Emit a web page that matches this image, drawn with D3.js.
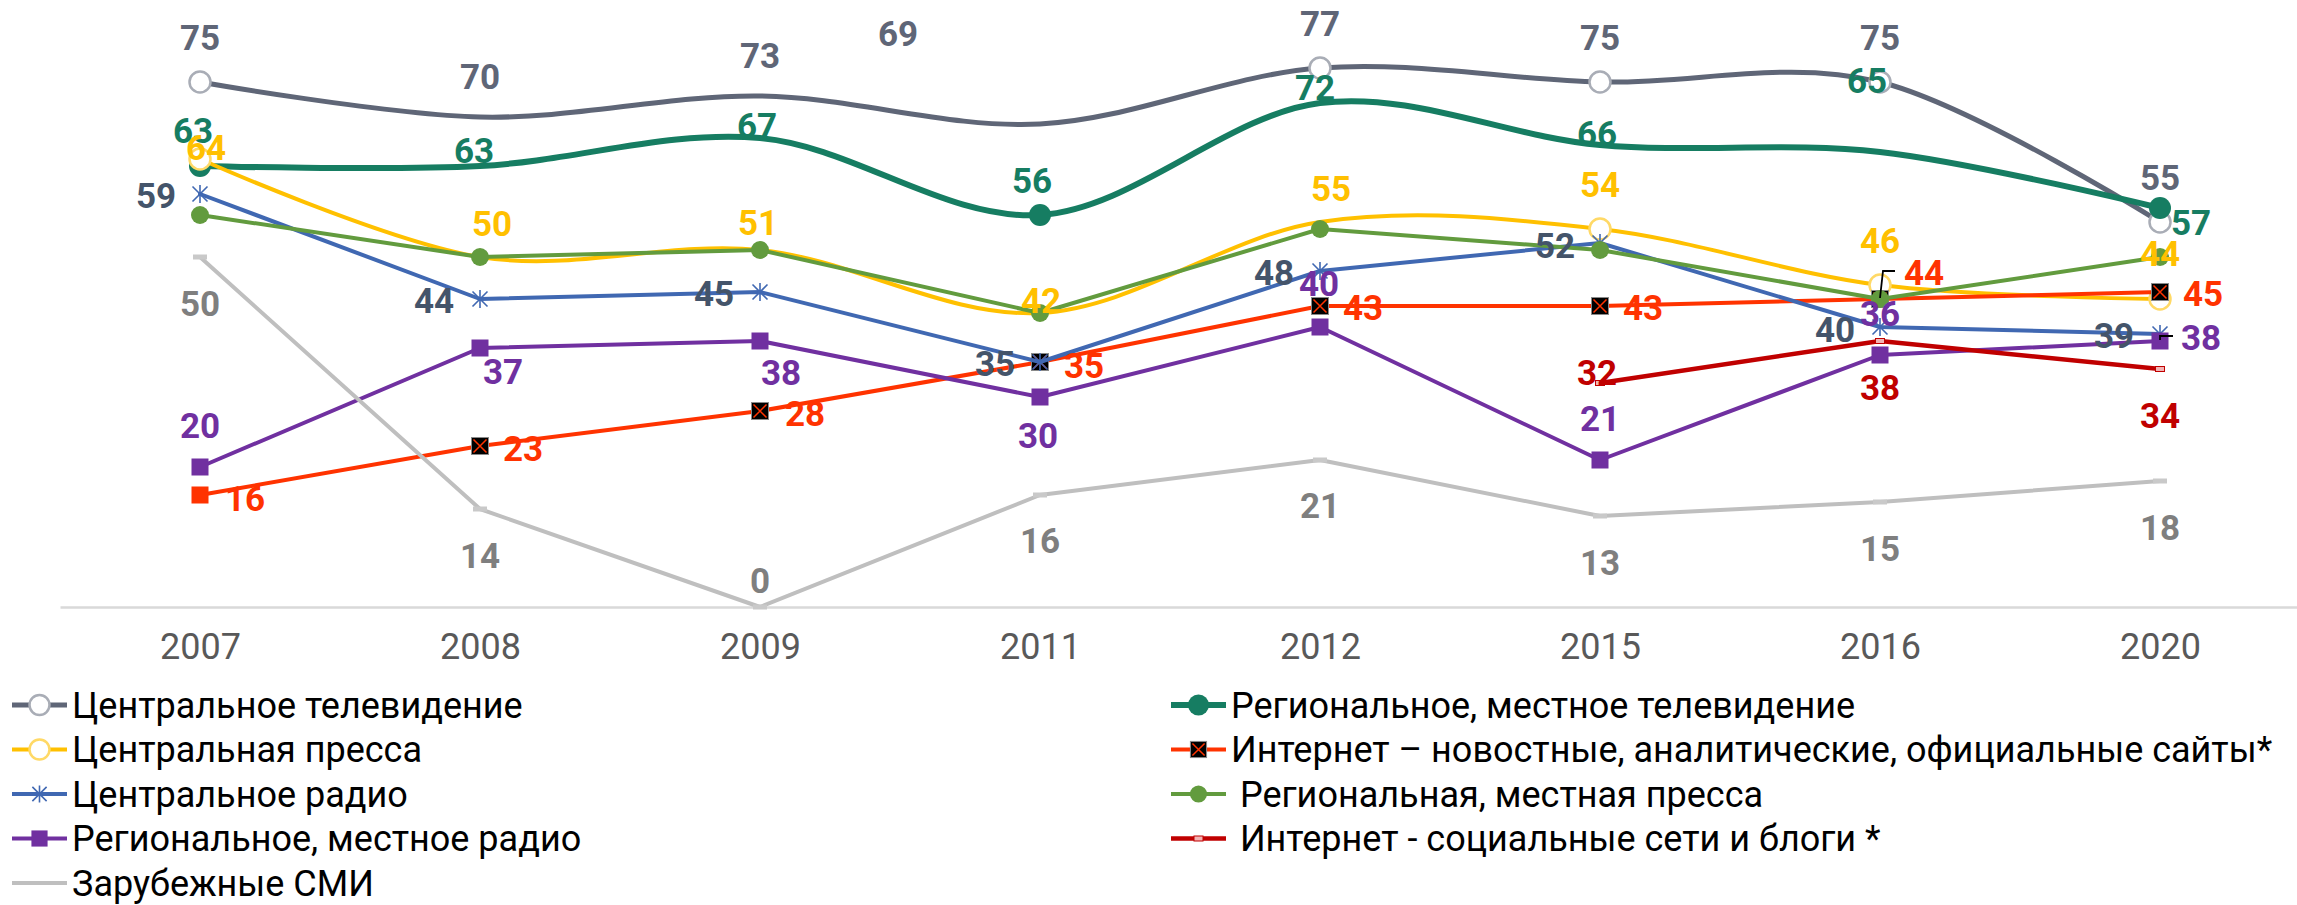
<!DOCTYPE html>
<html>
<head>
<meta charset="utf-8">
<script src="https://cdn.jsdelivr.net/npm/d3@7"></script>
<style>
  body { margin: 0; background: #fff; }
  svg { display: block; font-family: Roboto, "Open Sans", sans-serif; }
</style>
</head>
<body>
<svg id="chart" width="2297" height="905"></svg>
<script>
// Data
const years = ["2007", "2008", "2009", "2011", "2012", "2015", "2016", "2020"];
const centralTv = [75, 70, 73, 69, 77, 75, 75, 55];
const regionalTv = [63, 63, 67, 56, 72, 66, 65, 57];
const centralPress = [64, 50, 51, 42, 55, 54, 46, 44];
const internetNews = [16, 23, 28, 35, 43, 43, 44, 45];
const centralRadio = [59, 44, 45, 35, 48, 52, 40, 39];
const regionalPress = [56, 50, 51, 42, 54, 51, 44, 50];
const regionalRadio = [20, 37, 38, 30, 40, 21, 36, 38];
const internetSocial = [null, null, null, null, null, 32, 38, 34];
const foreignMedia = [50, 14, 0, 16, 21, 13, 15, 18];

// label placement (dx, dy from the point), hand placed like in the original
const tvLabelPos = [[0, -45], [0, -41], [0, -41], [-142, -91], [0, -45], [0, -45], [0, -45], [0, -45]];
const regTvLabelPos = [[-7, -36], [-6, -16], [-3, -13], [-8, -35], [-5, -16], [-3, -12], [-13, -72], [31, 14]];
const pressLabelPos = [[6, -12], [12, -34], [-2, -28], [1, -13], [11, -34], [0, -45], [0, -45], [0, -46]];
const newsLabelPos = [[45, 3], [43, 2], [45, 2], [44, 3], [43, 1], [43, 1], [44, -27], [43, 1]];
const radioLabelPos = [[-44, 1], [-46, 1], [-46, 1], [-45, 1], [-46, 1], [-45, 2], [-45, 2], [-46, 1]];
const regRadioLabelPos = [[0, -42], [23, 23], [21, 31], [-2, 38], [-1, -44], [0, -42], [0, -42], [41, -4]];
const socialLabelPos = [null, null, null, null, null, [-3, -11], [0, 46], [0, 46]];
const foreignLabelPos = [[0, 46], [0, 46], [0, -27], [0, 45], [0, 45], [0, 46], [0, 46], [0, 46]];

const series = [
    { name: "Центральное телевидение", values: centralTv, color: "#5F6677", width: 5, smooth: true,
      marker: "circleOpen", markerStroke: "#A9ADB6", markerAt: [0, 4, 5, 6, 7], label: "#5F6677", pos: tvLabelPos },
    { name: "Региональное, местное телевидение", values: regionalTv, color: "#167D62", width: 6, smooth: true,
      marker: "circle", r: 11, markerAt: [0, 3, 7], label: "#167D62", pos: regTvLabelPos },
    { name: "Центральная пресса", values: centralPress, color: "#FFC000", width: 4, smooth: true,
      marker: "circleOpen", markerStroke: "#FFD966", markerAt: [0, 5, 6, 7], label: "#FFC000", pos: pressLabelPos },
    { name: "Интернет – новостные, аналитические, официальные сайты*", values: internetNews, color: "#FF3300", width: 4,
      marker: "squareX", label: "#FF3300", pos: newsLabelPos },
    { name: "Центральное радио", values: centralRadio, color: "#4068B2", width: 4,
      marker: "asterisk", label: "#44546A", pos: radioLabelPos },
    { name: " Региональная, местная пресса", values: regionalPress, color: "#629B3E", width: 4,
      marker: "circle", r: 9 },
    { name: "Региональное, местное радио", values: regionalRadio, color: "#7030A0", width: 4,
      marker: "square", label: "#7030A0", pos: regRadioLabelPos },
    { name: " Интернет - социальные сети и блоги *", values: internetSocial, color: "#C00000", width: 4.5,
      marker: "dashRed", label: "#C00000", pos: socialLabelPos },
    { name: "Зарубежные СМИ", values: foreignMedia, color: "#BFBFBF", width: 4,
      marker: "dash", label: "#7F7F7F", pos: foreignLabelPos }
];

// leader lines of two moved labels
const leaders = [
    { s: 3, i: 6, pts: [[0, -1], [3, -28], [15, -28]] },
    { s: 6, i: 7, pts: [[0, -1], [0, -5], [13, -5]] }
];

const svg = d3.select("#chart");
const x = d3.scalePoint().domain(years).range([60, 2300]).padding(0.5);
const y = d3.scaleLinear().domain([0, 80]).range([607, 47]);

// Axis
const axis = svg.append("g")
    .attr("transform", "translate(0,607)")
    .call(d3.axisBottom(x).tickSize(0).tickPadding(26));
axis.select(".domain").attr("stroke", "#D9D9D9").attr("stroke-width", 2.5);
axis.selectAll("text")
    .attr("fill", "#595959")
    .style("font-size", "36px")
    .style("font-family", "Roboto, sans-serif");

const drawMarker = (g, s, type, cx, cy, scale = 1) => {
    if (type === "circleOpen") {
        g.append("circle").attr("cx", cx).attr("cy", cy).attr("r", 10.5 * scale)
            .attr("fill", "#fff").attr("stroke", s.markerStroke).attr("stroke-width", 2.5);
    } else if (type === "circle") {
        g.append("circle").attr("cx", cx).attr("cy", cy).attr("r", s.r * scale).attr("fill", s.color);
    } else if (type === "square") {
        const a = 17 * scale;
        g.append("rect").attr("x", cx - a / 2).attr("y", cy - a / 2).attr("width", a).attr("height", a)
            .attr("fill", s.color);
    } else if (type === "squareX") {
        const a = 17 * scale, h = a / 2 - 2;
        g.append("rect").attr("x", cx - a / 2).attr("y", cy - a / 2).attr("width", a).attr("height", a)
            .attr("fill", "#000").attr("stroke", "#8a8a8a").attr("stroke-width", 1);
        g.append("path")
            .attr("d", `M${cx - h},${cy - h}L${cx + h},${cy + h}M${cx + h},${cy - h}L${cx - h},${cy + h}`)
            .attr("stroke", s.color).attr("stroke-width", 1.5);
    } else if (type === "asterisk") {
        const h = 9 * scale, d = 7.5 * scale;
        g.append("path")
            .attr("d", `M${cx},${cy - h}L${cx},${cy + h}M${cx - d},${cy - d}L${cx + d},${cy + d}M${cx + d},${cy - d}L${cx - d},${cy + d}`)
            .attr("stroke", s.color).attr("stroke-width", 1.6).attr("fill", "none");
    } else if (type === "dash") {
        g.append("rect").attr("x", cx - 7).attr("y", cy - 2.5).attr("width", 14).attr("height", 5)
            .attr("fill", "#C9C9C9");
    } else if (type === "dashRed") {
        g.append("rect").attr("x", cx - 4.5).attr("y", cy - 2.5).attr("width", 9).attr("height", 5)
            .attr("fill", "#F2B4B4").attr("stroke", s.color).attr("stroke-width", 1);
    }
};

// Lines + markers
const plot = svg.append("g");
series.forEach(s => {
    const line = d3.line()
        .defined(d => d != null)
        .x((d, i) => x(years[i]))
        .y(d => y(d))
        .curve(s.smooth ? d3.curveCardinal.tension(0) : d3.curveLinear);
    const g = plot.append("g");
    g.append("path")
        .datum(s.values)
        .attr("d", line)
        .attr("fill", "none")
        .attr("stroke", s.color)
        .attr("stroke-width", s.width)
        .attr("stroke-linejoin", "round")
        .attr("stroke-linecap", "round");
    s.values.forEach((v, i) => {
        if (v == null) return;
        if (s.markerAt && !s.markerAt.includes(i)) return;
        let type = s.marker;
        if (type === "squareX" && i === 0) type = "square";
        drawMarker(g, s, type, x(years[i]), y(v));
    });
});

// Leader lines
leaders.forEach(l => {
    const s = series[l.s];
    const px = x(years[l.i]), py = y(s.values[l.i]);
    svg.append("path")
        .attr("d", d3.line()(l.pts.map(p => [px + p[0], py + p[1]])))
        .attr("fill", "none")
        .attr("stroke", "#000")
        .attr("stroke-width", 1.8);
});

// Data labels
const labels = svg.append("g")
    .style("font-size", "35px")
    .style("font-weight", "bold")
    .attr("text-anchor", "middle");
series.forEach(s => {
    if (!s.pos) return;
    s.values.forEach((v, i) => {
        if (v == null) return;
        const p = s.pos[i];
        labels.append("text")
            .attr("x", x(years[i]) + p[0])
            .attr("y", y(v) + p[1])
            .attr("dy", "0.36em")
            .attr("fill", s.label)
            .text(v);
    });
});

// Legend
const legend = svg.append("g");
series.forEach((s, k) => {
    const col = k % 2, row = Math.floor(k / 2);
    const x0 = col === 0 ? 12 : 1171;
    const cy = 705 + row * 44.5;
    const g = legend.append("g");
    g.append("line")
        .attr("x1", x0).attr("x2", x0 + 55)
        .attr("y1", cy).attr("y2", cy)
        .attr("stroke", s.color)
        .attr("stroke-width", s.width);
    let type = s.marker;
    if (type !== "dash") drawMarker(g, s, type, x0 + 27.5, cy, 0.95);
    g.append("text")
        .attr("x", x0 + 60)
        .attr("y", cy)
        .attr("dy", "0.36em")
        .style("font-size", "36px")
        .style("white-space", "pre")
        .attr("fill", "#000")
        .text(s.name);
});
</script>
</body>
</html>
